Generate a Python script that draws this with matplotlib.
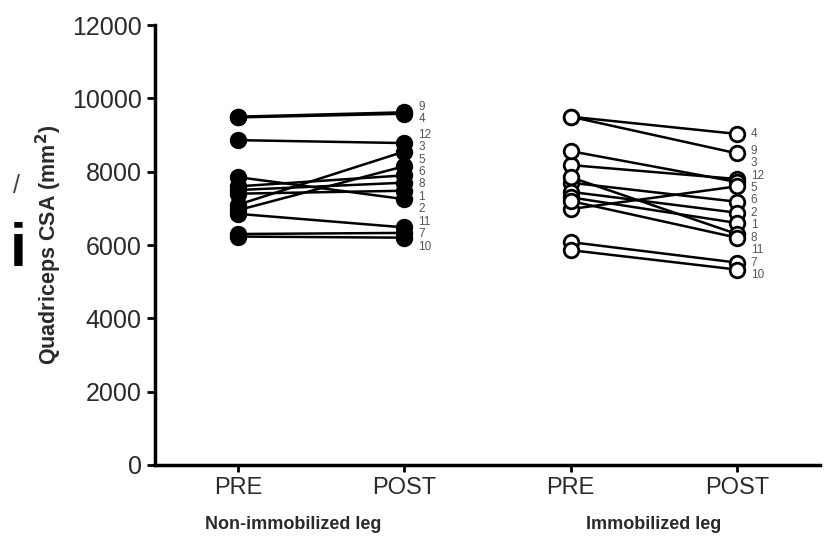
import matplotlib.pyplot as plt
import numpy as np

plt.rcParams['font.family'] = ['Liberation Sans', 'DejaVu Sans']

# subject ids, in label order (top to bottom at POST)
non_ids = ['9', '4', '12', '3', '5', '6', '8', '1', '2', '11', '7', '10']
non_pre = [9500, 9480, 8860, 7100, 6950, 7600, 7500, 7400, 7850, 6850, 6300, 6230]
non_post = [9620, 9580, 8780, 8550, 8150, 7900, 7700, 7480, 7250, 6480, 6330, 6200]

imm_ids = ['4', '9', '3', '12', '5', '6', '2', '1', '8', '11', '7', '10']
imm_pre = [9500, 9500, 8180, 8560, 6980, 7700, 7450, 7300, 7850, 7200, 6080, 5860]
imm_post = [9030, 8500, 7800, 7720, 7600, 7180, 6880, 6600, 6300, 6200, 5520, 5330]

x_ticks = ['PRE', 'POST', 'PRE', 'POST']
groups = ['Non-immobilized leg', 'Immobilized leg']
y_title = 'Quadriceps CSA (mm$^\\mathbf{2}$)'


def spread(vals, gap=340, n_iter=300):
    '''push label positions apart so they do not overlap'''
    pos = np.array(vals, dtype=float)
    for _ in range(n_iter):
        for i in range(len(pos) - 1):
            d = pos[i] - pos[i + 1]
            if d < gap:
                shift = (gap - d) / 2
                pos[i] += shift
                pos[i + 1] -= shift
    return pos


def plot_pairs(ax, x0, pre, post, ids, filled):
    face = 'black' if filled else 'white'
    for a, b in zip(pre, post):
        ax.plot([x0, x0 + 1], [a, b], color='black', lw=1.8, zorder=2)
    ax.plot([x0] * len(pre), pre, 'o', ms=10.5, mfc=face, mec='black', mew=2, zorder=3)
    ax.plot([x0 + 1] * len(post), post, 'o', ms=10.5, mfc=face, mec='black', mew=2, zorder=3)
    for lab, y in zip(ids, spread(post)):
        ax.annotate(lab, (x0 + 1, y), xytext=(10, 0), textcoords='offset points',
                    va='center', ha='left', fontsize=8.5, color='#555555')


fig = plt.figure(figsize=(8.26, 5.38), dpi=100)
ax = fig.add_axes([0.1877, 0.1357, 0.805, 0.8178])

plot_pairs(ax, 1, non_pre, non_post, non_ids, True)
plot_pairs(ax, 3, imm_pre, imm_post, imm_ids, False)

ax.set_xlim(0.5, 4.5)
ax.set_ylim(0, 12000)
ax.set_yticks(np.arange(0, 12001, 2000))
ax.set_xticks([1, 2, 3, 4])
ax.set_xticklabels(x_ticks, fontsize=17, color='#2a2a2a')
ax.tick_params(axis='y', labelsize=18, length=6, width=2, labelcolor='#2a2a2a')
ax.tick_params(axis='x', length=5, width=2, pad=4)
for s in ['top', 'right']:
    ax.spines[s].set_visible(False)
for s in ['left', 'bottom']:
    ax.spines[s].set_linewidth(2.5)

ax.set_ylabel(y_title, fontsize=15.5, fontweight='bold', color='#2a2a2a', labelpad=6)
ax.text(1.33, -0.135, groups[0], transform=ax.get_xaxis_transform(),
        ha='center', va='center', fontsize=13, fontweight='bold', color='#2a2a2a')
ax.text(3.5, -0.135, groups[1], transform=ax.get_xaxis_transform(),
        ha='center', va='center', fontsize=13, fontweight='bold', color='#2a2a2a')

# fragments of a neighbouring panel cut off at the left edge
fig.text(0.02, 0.655, '/', fontsize=18, color='#444444', ha='center', va='center')
fig.text(0.022, 0.535, 'i', fontsize=44, fontweight='bold', color='black',
         ha='center', va='center')

plt.savefig('out.png', dpi=100)
